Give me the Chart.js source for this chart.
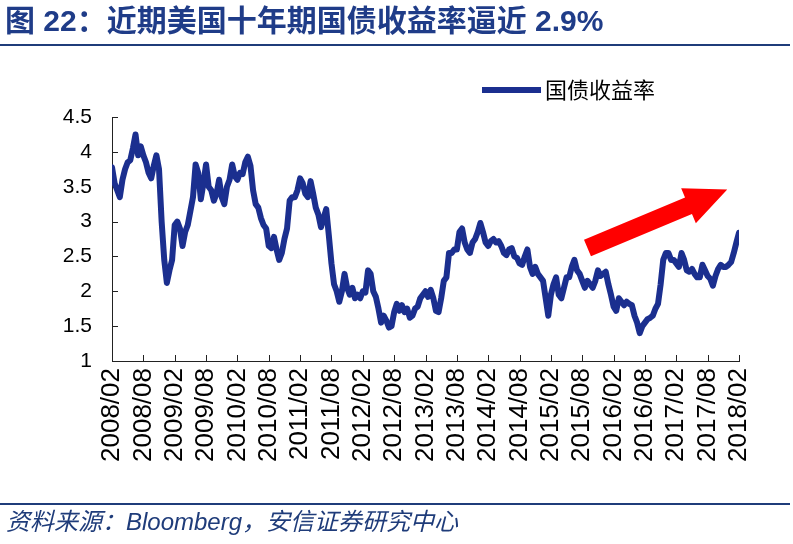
<!DOCTYPE html>
<html>
<head>
<meta charset="utf-8">
<script src="https://cdn.jsdelivr.net/npm/chart.js@4.4.1/dist/chart.umd.min.js"></script>
<style>
  html, body { margin: 0; padding: 0; background: #fff; }
  #wrap { position: relative; width: 793px; height: 544px; overflow: hidden; }
  #chart { position: absolute; left: 0; top: 0; }
  .title {
    position: absolute; left: 5px; top: 4px; z-index: 2;
    font: bold 30px/34px "Liberation Sans", "Noto Sans CJK SC", sans-serif;
    color: #1f3c88; white-space: nowrap;
  }
  .rule { position: absolute; left: 0; width: 790px; height: 2px; background: #1f3c7a; z-index: 2; }
  .source {
    position: absolute; left: 6px; top: 508px; z-index: 2;
    font: italic 24px/28px "Liberation Sans", "Noto Sans CJK SC", sans-serif;
    color: #1f3c7a; white-space: nowrap;
  }
</style>
</head>
<body>
<div id="wrap">
  <canvas id="chart" width="793" height="544"></canvas>
  <div class="title">图 22：近期美国十年期国债收益率逼近 2.9%</div>
  <div class="rule" style="top:44px"></div>
  <div class="rule" style="top:503px"></div>
  <div class="source">资料来源：Bloomberg，安信证券研究中心</div>
</div>
<script>
// US 10Y treasury yield, two readings per month, 2008/02 .. 2018/02
const y2008 = [3.78, 3.55, 3.45, 3.35, 3.6, 3.75, 3.85, 3.88, 4.05, 4.25, 3.95, 4.08, 3.95, 3.85, 3.7, 3.62, 3.8, 3.95, 3.75, 3.0, 2.45, 2.12];
const y2009 = [2.3, 2.45, 2.95, 3.0, 2.9, 2.65, 2.85, 2.95, 3.15, 3.35, 3.82, 3.7, 3.32, 3.55, 3.82, 3.5, 3.45, 3.3, 3.4, 3.6, 3.35, 3.25, 3.5, 3.6];
const y2010 = [3.82, 3.65, 3.6, 3.7, 3.68, 3.85, 3.93, 3.8, 3.45, 3.25, 3.2, 3.05, 2.95, 2.9, 2.65, 2.62, 2.78, 2.6, 2.45, 2.55, 2.75, 2.9, 3.3, 3.35];
const y2011 = [3.35, 3.45, 3.62, 3.55, 3.4, 3.35, 3.58, 3.4, 3.2, 3.1, 2.92, 3.05, 3.18, 2.8, 2.4, 2.1, 2.0, 1.85, 2.0, 2.25, 2.05, 1.95, 2.05, 1.9];
const y2012 = [1.95, 1.9, 2.0, 1.98, 2.3, 2.25, 2.0, 1.92, 1.75, 1.55, 1.65, 1.58, 1.48, 1.5, 1.7, 1.82, 1.72, 1.8, 1.7, 1.75, 1.62, 1.65, 1.75, 1.78];
const y2013 = [1.9, 1.95, 2.0, 1.92, 2.02, 1.9, 1.72, 1.7, 1.9, 2.15, 2.2, 2.55, 2.55, 2.6, 2.6, 2.85, 2.9, 2.7, 2.6, 2.55, 2.7, 2.75, 2.85, 2.98];
const y2014 = [2.85, 2.7, 2.65, 2.72, 2.75, 2.7, 2.72, 2.65, 2.55, 2.52, 2.6, 2.62, 2.5, 2.48, 2.4, 2.38, 2.5, 2.6, 2.35, 2.25, 2.35, 2.25, 2.2, 2.15];
const y2015 = [1.9, 1.65, 1.95, 2.1, 2.2, 1.95, 1.9, 2.05, 2.2, 2.2, 2.35, 2.45, 2.3, 2.25, 2.15, 2.05, 2.15, 2.1, 2.05, 2.15, 2.3, 2.22, 2.25, 2.28];
const y2016 = [2.1, 1.95, 1.78, 1.72, 1.9, 1.85, 1.8, 1.85, 1.82, 1.8, 1.65, 1.55, 1.4, 1.5, 1.55, 1.6, 1.62, 1.65, 1.75, 1.82, 2.1, 2.45, 2.55, 2.55];
const y2017 = [2.45, 2.45, 2.4, 2.35, 2.55, 2.45, 2.3, 2.28, 2.32, 2.25, 2.2, 2.2, 2.38, 2.3, 2.22, 2.18, 2.08, 2.22, 2.32, 2.38, 2.35, 2.35, 2.38, 2.42];
const y2018 = [2.55, 2.7, 2.84];

const tickLabels = ['2008/02', '2008/08', '2009/02', '2009/08', '2010/02', '2010/08', '2011/02',
  '2011/08', '2012/02', '2012/08', '2013/02', '2013/08', '2014/02', '2014/08', '2015/02',
  '2015/08', '2016/02', '2016/08', '2017/02', '2017/08', '2018/02'];

const seriesName = '国债收益率';
const yields = [].concat(y2008, y2009, y2010, y2011, y2012, y2013, y2014, y2015, y2016, y2017, y2018);
const points = yields.map((v, i) => ({ x: i, y: v }));

// arrow annotation: tail and tip in data units (x = half-month index)
const arrowFrom = [182, 2.62];
const arrowTo = [235.5, 3.46];

const lineColor = '#1b2f8f';

// ticks pointing into the plot, like the Excel original
const innerTicks = {
  id: 'innerTicks',
  beforeDatasetsDraw(chart) {
    const { ctx, chartArea: a, scales: { x, y } } = chart;
    ctx.save();
    ctx.strokeStyle = '#222';
    ctx.lineWidth = 1;
    ctx.beginPath();
    x.ticks.forEach(t => {
      const px = Math.round(x.getPixelForValue(t.value)) + 0.5;
      ctx.moveTo(px, a.bottom);
      ctx.lineTo(px, a.bottom - 6);
    });
    y.ticks.forEach(t => {
      const py = Math.round(y.getPixelForValue(t.value)) + 0.5;
      ctx.moveTo(a.left, py);
      ctx.lineTo(a.left + 6, py);
    });
    ctx.stroke();
    ctx.restore();
  }
};

const extras = {
  id: 'extras',
  afterDatasetsDraw(chart) {
    const { ctx, scales: { x, y } } = chart;
    const ds = chart.data.datasets[0];

    // legend
    ctx.save();
    ctx.strokeStyle = ds.borderColor;
    ctx.lineWidth = 6;
    ctx.beginPath();
    ctx.moveTo(482, 90);
    ctx.lineTo(541, 90);
    ctx.stroke();
    ctx.fillStyle = '#000';
    ctx.font = '22px "Noto Sans CJK SC", sans-serif';
    ctx.textBaseline = 'middle';
    ctx.fillText(ds.label, 545, 90);

    // red arrow
    const x0 = x.getPixelForValue(arrowFrom[0]), y0 = y.getPixelForValue(arrowFrom[1]);
    const x1 = x.getPixelForValue(arrowTo[0]), y1 = y.getPixelForValue(arrowTo[1]);
    const ang = Math.atan2(y1 - y0, x1 - x0);
    const len = Math.hypot(x1 - x0, y1 - y0);
    const shaft = 9, head = 19, headLen = 42;
    ctx.translate(x0, y0);
    ctx.rotate(ang);
    ctx.fillStyle = '#ff0000';
    ctx.beginPath();
    ctx.moveTo(0, -shaft);
    ctx.lineTo(len - headLen, -shaft);
    ctx.lineTo(len - headLen, -head);
    ctx.lineTo(len, 0);
    ctx.lineTo(len - headLen, head);
    ctx.lineTo(len - headLen, shaft);
    ctx.lineTo(0, shaft);
    ctx.closePath();
    ctx.fill();
    ctx.restore();
  }
};

new Chart(document.getElementById('chart'), {
  type: 'line',
  data: {
    datasets: [{
      label: seriesName,
      data: points,
      borderColor: lineColor,
      backgroundColor: lineColor,
      borderWidth: 6,
      borderJoinStyle: 'round',
      borderCapStyle: 'round',
      pointRadius: 0,
      tension: 0
    }]
  },
  options: {
    responsive: false,
    animation: false,
    layout: { padding: { top: 117, right: 54, left: 0, bottom: 0 } },
    plugins: { legend: { display: false }, tooltip: { enabled: false } },
    scales: {
      x: {
        type: 'linear',
        min: 0,
        max: 240,
        grid: { drawOnChartArea: false, drawTicks: false },
        border: { color: '#222', width: 1 },
        afterFit(scale) { scale.height = 183; },
        ticks: {
          stepSize: 12,
          autoSkip: false,
          maxRotation: 90,
          minRotation: 90,
          padding: 7,
          color: '#000',
          font: { family: 'Liberation Sans', size: 26 },
          callback: v => tickLabels[v / 12]
        }
      },
      y: {
        min: 1,
        max: 4.5,
        grid: { drawOnChartArea: false, drawTicks: false },
        border: { color: '#222', width: 1 },
        afterFit(scale) { scale.width = 112; },
        ticks: {
          stepSize: 0.5,
          padding: 20,
          color: '#000',
          font: { family: 'Liberation Sans', size: 21 },
          callback: v => String(v)
        }
      }
    }
  },
  plugins: [innerTicks, extras]
});
</script>
</body>
</html>
